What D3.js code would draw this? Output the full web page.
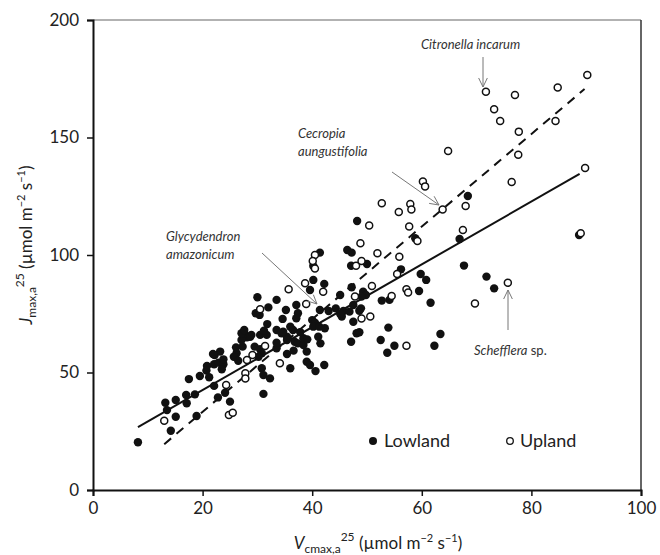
<!DOCTYPE html>
<html><head><meta charset="utf-8">
<script src="https://cdn.jsdelivr.net/npm/d3@7"></script>
<style>body{margin:0;background:#fff}svg{display:block;font-family:Lato,"Open Sans",sans-serif}</style>
</head><body><svg id="c" width="660" height="555"></svg>
<script>
const xTicks=[0,20,40,60,80,100];
const yTicks=[0,50,100,150,200];
const lowland=[[8.2,20.3],[13.2,37.1],[13.5,34.0],[14.2,25.2],[15.1,38.3],[15.1,31.2],[17.0,40.4],[17.1,36.9],[18.6,40.7],[17.5,47.2],[18.9,31.5],[19.5,48.5],[20.7,50.8],[21.2,48.0],[20.8,52.8],[22.1,44.3],[22.8,39.4],[24.1,41.4],[25.0,37.6],
[22.2,57.4],[23.2,58.9],[21.9,57.9],[22.1,53.5],[22.9,54.2],[23.8,53.5],[23.5,51.4],[23.8,55.6],[26.2,58.2],[27.3,61.0],[27.6,66.7],[28.1,65.0],[27.1,63.8],[28.9,66.0],[26.1,60.7],[25.7,56.7],[26.5,55.0],[27.1,66.7],[27.6,68.1],[28.7,65.2],
[29.5,61.0],[30.5,59.9],[30.8,58.2],[30.2,56.7],[31.1,40.9],[30.8,51.8],[31.1,48.9],[32.3,47.5],
[30.0,82.0],[33.5,80.9],[30.4,74.5],[32.0,77.7],[29.7,75.2],[30.5,66.0],[35.2,76.6],[34.6,72.8],[37.1,78.7],[37.4,75.2],[37.1,73.1],[31.8,70.6],[33.5,68.1],[31.7,66.0],[34.4,66.7],[35.4,65.2],[33.5,60.3],[35.4,57.9],[36.0,51.8],[36.8,63.1],[37.4,62.4],[38.4,61.7],[38.4,64.6],[39.1,64.1],[37.8,67.2],[41.1,65.2],[41.5,62.4],[39.0,58.9],[39.0,54.6],[39.6,53.2],[42.2,53.2],[40.6,50.6],
[31.2,67.8],[34.7,67.4],[35.4,63.8],[36.5,68.1],[33.5,62.7],[36.0,69.5],[36.6,59.3],
[40.0,72.3],[40.5,71.2],[40.2,69.5],[41.3,69.5],[42.3,68.8],[41.4,76.6],[43.0,76.2],[44.3,77.3],[45.7,76.2],[46.8,75.9],[47.5,78.7],[48.9,77.3],[45.4,73.8],[47.5,71.6],[45.1,75.0],[48.6,76.3],[47.1,63.1],[48.1,66.7],[48.6,67.1],[52.5,63.8],[53.9,69.1],[55.0,61.4],[53.7,58.4],
[40.2,89.4],[42.2,87.7],[39.6,85.1],[45.1,83.0],[47.2,86.3],[49.3,84.4],[49.8,83.0],[49.0,82.3],[52.7,80.6],[54.1,80.9],[41.4,101.0],[40.2,95.3],[46.4,102.1],[47.2,101.0],[47.1,95.4],[50.0,96.2],[48.2,114.5],[56.2,93.9],[58.8,107.1],[59.8,91.9],[60.8,89.4],[59.5,84.7],[61.6,79.7],[63.4,66.4],[62.3,61.4],[66.9,106.8],[67.7,95.5],[71.8,90.8],[73.2,85.8],[68.4,125.1],[88.7,108.5]];
const upland=[[13.0,29.5],[24.3,44.7],[24.8,31.9],[25.5,32.9],[28.1,55.3],[29.1,57.4],[27.8,49.7],[27.8,47.5],[31.4,61.3],[34.1,53.9],[30.5,76.9],[35.7,85.4],[38.7,88.0],[38.9,79.1],[42.0,84.4],[40.5,100.0],[40.1,97.4],[40.5,94.3],[48.0,95.4],[49.0,97.4],[48.8,105.0],[50.4,112.6],[51.9,100.7],[47.8,82.3],[50.9,86.8],[54.5,82.6],[49.0,73.0],[50.6,73.8],[52.7,122.0],[55.8,118.3],[57.9,121.7],[58.1,119.4],[60.2,131.3],[60.6,129.2],[57.7,112.1],[59.2,106.0],[55.9,99.3],[55.5,91.9],[57.2,85.4],[57.5,84.0],[57.2,61.4],[69.7,79.4],[75.7,88.2],[63.8,119.4],[68.0,120.9],[67.5,110.6],[64.8,144.3],[71.7,169.5],[77.0,168.1],[73.2,162.0],[74.3,157.0],[77.7,152.5],[77.6,142.7],[76.4,131.1],[84.8,171.3],[90.2,176.6],[84.4,157.0],[89.8,137.0],[89.0,109.3]];
const fitLowlandAll=[[8.2,26.8],[88.8,134.5]];
const fitUpland=[[13.0,19.5],[89.7,170.6]];
const labels=[
 {lines:["Citronella incarum"],tx:421,ty:49,arrow:[[483,57],[483,87]]},
 {lines:["Cecropia","aungustifolia"],tx:298,ty:138,arrow:[[392,172],[439,205]]},
 {lines:["Glycydendron","amazonicum"],tx:166,ty:241,arrow:[[262,253],[317,304]]}
];

const svg=d3.select("#c");
const L=93,R=641,T=20,B=490;
const x=d3.scaleLinear().domain([0,100]).range([L,R]);
const y=d3.scaleLinear().domain([0,200]).range([B,T]);

svg.append("line").attr("x1",L).attr("x2",R).attr("y1",T).attr("y2",T).attr("stroke","#666").attr("stroke-width",1.2);
svg.append("line").attr("x1",R).attr("x2",R).attr("y1",T).attr("y2",B).attr("stroke","#333").attr("stroke-width",1.5);

const xa=svg.append("g").attr("transform",`translate(0,${B})`).call(d3.axisBottom(x).tickValues(xTicks).tickSize(6).tickPadding(6));
const ya=svg.append("g").attr("transform",`translate(${L},0)`).call(d3.axisLeft(y).tickValues(yTicks).tickSize(6).tickPadding(8));
[xa,ya].forEach(a=>{a.select(".domain").attr("stroke","#111").attr("stroke-width",2);a.selectAll(".tick line").attr("stroke","#111").attr("stroke-width",1.5);a.selectAll("text").attr("font-size",17).attr("fill","#222").attr("font-family","Lato,sans-serif");});

const ln=d3.line().x(d=>x(d[0])).y(d=>y(d[1]));
svg.append("path").attr("d",ln(fitLowlandAll)).attr("stroke","#111").attr("stroke-width",2).attr("fill","none");
svg.append("path").attr("d",ln(fitUpland)).attr("stroke","#111").attr("stroke-width",2).attr("stroke-dasharray","9,7").attr("fill","none");

svg.append("g").selectAll("circle").data(lowland).join("circle").attr("cx",d=>x(d[0])).attr("cy",d=>y(d[1])).attr("r",4.2).attr("fill","#111");
svg.append("g").selectAll("circle").data(upland).join("circle").attr("cx",d=>x(d[0])).attr("cy",d=>y(d[1])).attr("r",3.5).attr("fill","#fff").attr("stroke","#111").attr("stroke-width",1.5);

function arrowHead(g,p0,p1){const a=Math.atan2(p1[1]-p0[1],p1[0]-p0[0]);const l=10,w=0.45;
 g.append("path").attr("d",`M${p1[0]-l*Math.cos(a-w)},${p1[1]-l*Math.sin(a-w)}L${p1[0]},${p1[1]}L${p1[0]-l*Math.cos(a+w)},${p1[1]-l*Math.sin(a+w)}`).attr("stroke","#777").attr("fill","none").attr("stroke-width",1);}
const ag=svg.append("g");
labels.forEach(lb=>{
 lb.lines.forEach((t,i)=>ag.append("text").attr("x",lb.tx).attr("y",lb.ty+i*18).attr("font-size",13).attr("font-style","italic").attr("fill","#333").text(t));
 ag.append("line").attr("x1",lb.arrow[0][0]).attr("y1",lb.arrow[0][1]).attr("x2",lb.arrow[1][0]).attr("y2",lb.arrow[1][1]).attr("stroke","#777").attr("stroke-width",1);
 arrowHead(ag,lb.arrow[0],lb.arrow[1]);
});
const st=ag.append("text").attr("x",474).attr("y",355).attr("font-size",13).attr("fill","#333");
st.append("tspan").attr("font-style","italic").text("Schefflera");st.append("tspan").text(" sp.");
ag.append("line").attr("x1",508).attr("y1",330).attr("x2",508).attr("y2",290).attr("stroke","#777");
arrowHead(ag,[508,330],[508,290]);

svg.append("circle").attr("cx",373).attr("cy",441).attr("r",4).attr("fill","#111");
svg.append("text").attr("x",384).attr("y",447).attr("font-size",18).attr("fill","#222").text("Lowland");
svg.append("circle").attr("cx",510).attr("cy",441).attr("r",3.3).attr("fill","#fff").attr("stroke","#111").attr("stroke-width",1.3);
svg.append("text").attr("x",520).attr("y",447).attr("font-size",18).attr("fill","#222").text("Upland");

function title(x0,y0,sym,sub,rot){
 const el=svg.append("text").attr("font-size",17).attr("fill","#222").attr("text-anchor","middle");
 el.attr("transform",rot?`translate(${x0},${y0}) rotate(-90)`:`translate(${x0},${y0})`);
 el.append("tspan").attr("font-style","italic").text(sym);
 el.append("tspan").attr("font-size",12).attr("dy",4).text(sub);
 el.append("tspan").attr("font-size",12).attr("dy",-12).text("25");
 el.append("tspan").attr("dy",8).text(" (µmol m");
 el.append("tspan").attr("font-size",11).attr("dy",-7).text("−2");
 el.append("tspan").attr("dy",7).text(" s");
 el.append("tspan").attr("font-size",11).attr("dy",-7).text("−1");
 el.append("tspan").attr("dy",7).text(")");
}
title(378,549,"V","cmax,a",false);
title(32,245,"J","max,a",true);
</script></body></html>
